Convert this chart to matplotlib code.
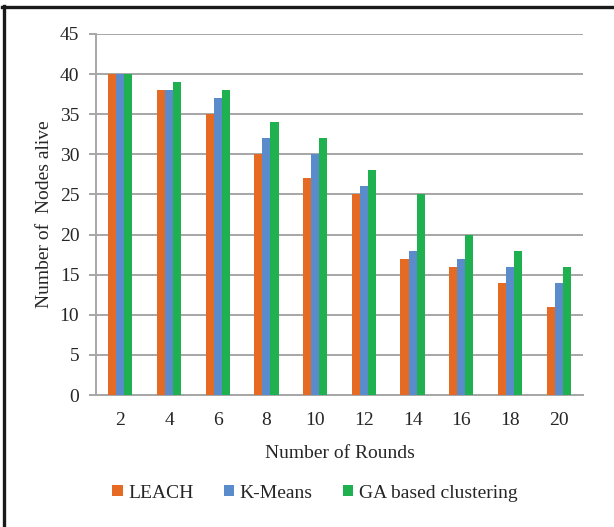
import matplotlib
matplotlib.use("Agg")
import matplotlib.pyplot as plt
import numpy as np
from matplotlib.patches import Patch

rounds = ["2", "4", "6", "8", "10", "12", "14", "16", "18", "20"]
leach = [40, 38, 35, 30, 27, 25, 17, 16, 14, 11]
kmeans = [40, 38, 37, 32, 30, 26, 18, 17, 16, 14]
ga_clustering = [40, 39, 38, 34, 32, 28, 25, 20, 18, 16]
series_names = ["LEACH", "K-Means", "GA based clustering"]
y_ticks = [0, 5, 10, 15, 20, 25, 30, 35, 40, 45]

colors = ["#E56B25", "#5A8BCB", "#1FB04F"]
grid_color = "#A6A6A6"
text_color = "#262626"
fs = 14

plt.rcParams["font.family"] = ["Liberation Serif", "DejaVu Serif"]

fig = plt.figure(figsize=(6.14, 5.27), dpi=100)
ax = fig.add_axes([96 / 614, 1 - 395 / 527, (583 - 96) / 614, (395 - 34) / 527])

x = np.arange(len(rounds))
w = 0.165
for i, (vals, c) in enumerate(zip([leach, kmeans, ga_clustering], colors)):
    ax.bar(x + (i - 1) * w, vals, width=w, color=c, zorder=3, linewidth=0)

ax.set_xlim(-0.5, len(rounds) - 0.5)
ax.set_ylim(0, 45)
ax.set_yticks(y_ticks)
ax.set_yticklabels([str(t) for t in y_ticks])
ax.set_xticks(x)
ax.set_xticklabels(rounds)

ax.yaxis.grid(True, color=grid_color, linewidth=1.4, zorder=0)
ax.set_axisbelow(True)
for side in ["top", "right"]:
    ax.spines[side].set_visible(False)
ax.spines["left"].set_color(grid_color)
ax.spines["left"].set_linewidth(1.4)
ax.spines["bottom"].set_color(grid_color)
ax.spines["bottom"].set_linewidth(1.4)

ax.tick_params(axis="y", length=5, width=1.4, color=grid_color, pad=7,
               labelsize=fs, labelcolor=text_color)
ax.tick_params(axis="x", length=0, pad=12, labelsize=fs, labelcolor=text_color)

ax.set_xlabel("Number of Rounds", fontsize=fs, color=text_color, labelpad=12)
ax.set_ylabel("Number of  Nodes alive", fontsize=fs, color=text_color, labelpad=5)

handles = [Patch(facecolor=c, edgecolor="none") for c in colors]
fig.legend(handles, series_names, loc="center", ncol=3,
           bbox_to_anchor=(315 / 614, 1 - 493 / 527), frameon=False,
           fontsize=fs, handlelength=0.52, handleheight=0.52,
           handletextpad=0.3, columnspacing=1.55, labelcolor=text_color)

# frame lines along the left and top edges of the figure
fig.add_artist(plt.Line2D([3.5 / 614, 3.5 / 614], [0, 1 - 6 / 527],
                          transform=fig.transFigure, color="#1a1a1a", linewidth=2.4))
fig.add_artist(plt.Line2D([2.3 / 614, 1], [1 - 7.2 / 527, 1 - 7.2 / 527],
                          transform=fig.transFigure, color="#1a1a1a", linewidth=2.4))

fig.savefig("out.png", dpi=100)
